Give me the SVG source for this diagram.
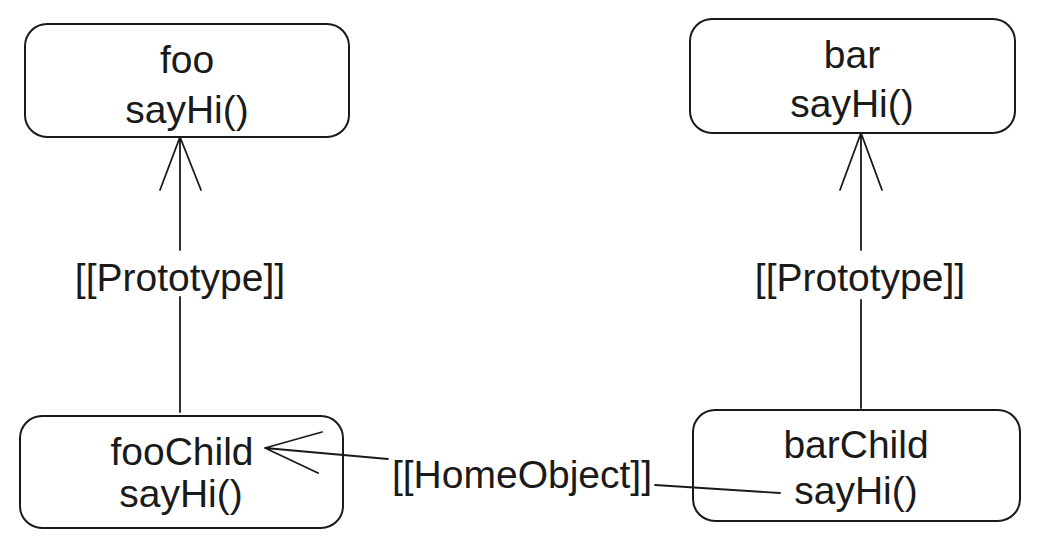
<svg xmlns="http://www.w3.org/2000/svg" width="1037" height="548" viewBox="0 0 1037 548">
<style>
.box{fill:#fff;stroke:#1a1a1a;stroke-width:2}
.t{font-family:"Liberation Sans",Arial,sans-serif;font-size:39px;fill:#1a1a1a;text-anchor:middle}
.c{fill:none;stroke:#1a1a1a;stroke-width:1.8;stroke-linecap:round;stroke-linejoin:round}
</style>
<rect width="1037" height="548" fill="#fff"/>
<g id="foo">
<rect class="box" x="25" y="24" width="324" height="113" rx="22"/>
<text class="t" x="187" y="73">foo</text>
<text class="t" x="187" y="123">sayHi()</text>
</g>
<g id="bar">
<rect class="box" x="690" y="19" width="325" height="114" rx="22"/>
<text class="t" x="852" y="68">bar</text>
<text class="t" x="852" y="117">sayHi()</text>
</g>
<g id="fooChild">
<rect class="box" x="20" y="416" width="323" height="112" rx="22"/>
<text class="t" x="182" y="465">fooChild</text>
<text class="t" x="181" y="507">sayHi()</text>
</g>
<g id="barChild">
<rect class="box" x="693" y="410" width="327" height="111" rx="22"/>
<text class="t" x="856" y="458">barChild</text>
<text class="t" x="856" y="504">sayHi()</text>
</g>
<g id="connectors">
<path class="c" d="M180 250 V137 M160 190 L180 137 L201 190 M180 297 V412"/>
<text class="t" x="180" y="291">[[Prototype]]</text>
<path class="c" d="M861 250 V133 M840 190 L861 133 L882 190 M861 300 V408"/>
<text class="t" x="860" y="291">[[Prototype]]</text>
<path class="c" d="M388 459 L265 448 M322 432 L265 448 L318 473 M655 485 L780 493"/>
<text class="t" x="522" y="488">[[HomeObject]]</text>
</g>
</svg>
